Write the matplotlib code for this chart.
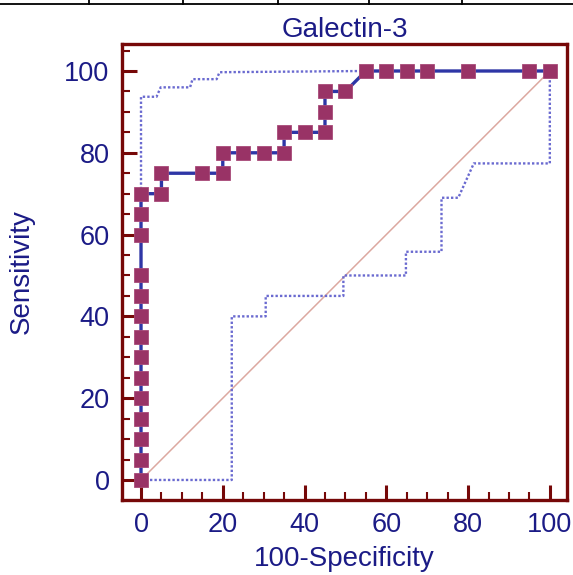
import matplotlib
matplotlib.use("Agg")
import matplotlib.pyplot as plt
from matplotlib.ticker import MultipleLocator
from matplotlib.lines import Line2D

plt.rcParams['font.family'] = ['Liberation Sans', 'DejaVu Sans']

# ROC curve data (100-Specificity, Sensitivity)
roc_x = [0, 0, 0, 0, 0, 0, 0, 0, 0, 0, 0, 0, 0, 0,
         5, 5, 15, 20, 20, 25, 30, 35, 35, 40, 45, 45, 45, 50,
         55, 60, 65, 70, 80, 95, 100]
roc_y = [0, 5, 10, 15, 20, 25, 30, 35, 40, 45, 50, 60, 65, 70,
         70, 75, 75, 75, 80, 80, 80, 80, 85, 85, 85, 90, 95, 95,
         100, 100, 100, 100, 100, 100, 100]

# Upper confidence bound
upper_x = [0, 0, 3.8, 4.8, 12, 12.6, 18.5, 19.2, 55]
upper_y = [70, 93.7, 93.7, 96, 96, 98, 98, 99.7, 100]

# Lower confidence bound
lower_x = [0, 22.2, 22.2, 30.5, 30.5, 49.5, 49.5, 64.8, 64.8, 73.5, 73.5, 77.6, 81.4, 100, 100]
lower_y = [0, 0, 40, 40, 45, 45, 50, 50, 55.8, 55.8, 69, 69, 77.4, 77.4, 100]

# Reference diagonal
diag_x = [0, 100]
diag_y = [0, 100]

x_ticks = [0, 20, 40, 60, 80, 100]
y_ticks = [0, 20, 40, 60, 80, 100]

title = "Galectin-3"
xlabel = "100-Specificity"
ylabel = "Sensitivity"

navy = "#1b1b86"
spine_c = "#760808"

fig = plt.figure(figsize=(5.73, 5.75), dpi=100)
ax = fig.add_axes([122/573, 1-500/575, 445/573, 456/575])

ax.plot(diag_x, diag_y, color="#dca8a0", lw=1.1, zorder=1)
ax.plot(upper_x, upper_y, color="#6a6ad0", lw=1.7, ls=(0, (1, 0.9)), zorder=2)
ax.plot(lower_x, lower_y, color="#6a6ad0", lw=1.7, ls=(0, (1, 0.9)), zorder=2)
ax.plot(roc_x, roc_y, color="#2e36a6", lw=2.4, zorder=3,
        marker="s", markersize=9.5, markerfacecolor="#993366",
        markeredgecolor="#a84a78", markeredgewidth=0.6)

ax.set_xlim(-4.65, 104.2)
ax.set_ylim(-4.9, 106.6)
ax.set_xticks(x_ticks)
ax.set_yticks(y_ticks)
ax.xaxis.set_minor_locator(MultipleLocator(5))
ax.yaxis.set_minor_locator(MultipleLocator(5))
ax.tick_params(which="major", direction="in", length=11, width=2.2,
               color=spine_c, labelsize=19.5, labelcolor=navy, pad=9)
ax.tick_params(which="minor", direction="in", length=5.5, width=1.5,
               color=spine_c)
ax.tick_params(top=False, right=False)
for s in ax.spines.values():
    s.set_color(spine_c)
    s.set_linewidth(2.4)

ax.set_title(title, color=navy, fontsize=20, pad=5)
ax.set_xlabel(xlabel, color=navy, fontsize=20)
ax.set_ylabel(ylabel, color=navy, fontsize=20)
ax.xaxis.set_label_coords(0.5, -0.13)
ax.yaxis.set_label_coords(-0.225, 0.5)
ax.yaxis.label.set_va("center")
ax.xaxis.label.set_va("center")

# table rule residue at the top
fig.add_artist(Line2D([0, 1], [1-4.3/575, 1-4.3/575], color="black", lw=1.3,
                      transform=fig.transFigure))
for px in [89, 183, 278, 369, 462]:
    fig.add_artist(Line2D([px/573, px/573], [1, 1-4.3/575], color="black", lw=1.3,
                          transform=fig.transFigure))

fig.savefig("out.png", dpi=100)
